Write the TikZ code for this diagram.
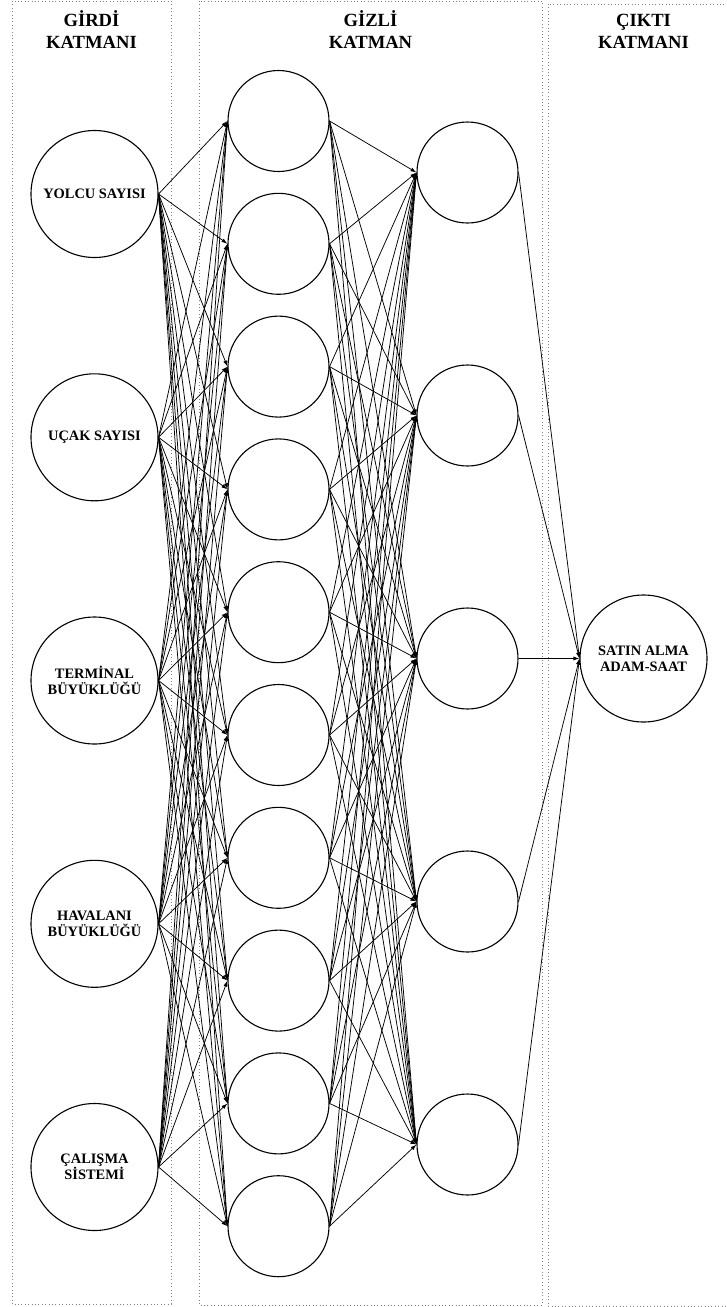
\documentclass[tikz,border=0pt]{standalone}
\usepackage{fontspec}
\setmainfont{Liberation Serif}
\usetikzlibrary{arrows.meta}
\begin{document}
\begin{tikzpicture}[x=1pt,y=-1pt,
  neuron/.style={draw, circle, line width=1.1pt, inner sep=0pt, minimum size=101pt},
  bigneuron/.style={draw, circle, line width=1.1pt, inner sep=0pt, minimum size=127pt,
    font=\bfseries\fontsize{14.4}{16}\selectfont, align=center},
  layerbox/.style={draw=gray, line width=0.8pt, dash pattern=on 0.8pt off 2.6pt},
  title/.style={font=\bfseries\fontsize{18.6}{22}\selectfont, anchor=base, inner sep=0pt},
  conn/.style={-{Latex[length=6pt,width=4pt]}, line width=0.75pt}]
\useasboundingbox (0,0) rectangle (726,1307);
\clip (0,0) rectangle (726,1307);
% layer boxes
\draw[layerbox] (12,1) rectangle (171,1304);
\draw[layerbox] (199,1) rectangle (542,1305);
\draw[layerbox] (548,4) rectangle (740,1306);
% titles
\node[title] (t1a) at (91.5,26) {GİRDİ};
\node[title] (t1b) at (91.5,48) {KATMANI};
\node[title] (t2a) at (370.5,26) {GİZLİ};
\node[title] (t2b) at (370.5,48) {KATMAN};
\node[title] (t3a) at (643.5,26) {ÇIKTI};
\node[title] (t3b) at (643.5,48) {KATMANI};
% input layer
\node[bigneuron] (in1) at (94.5,194) {YOLCU SAYISI};
\node[bigneuron] (in2) at (94.5,437.3) {UÇAK SAYISI};
\node[bigneuron] (in3) at (94.5,680.5) {TERMİNAL\\BÜYÜKLÜĞÜ};
\node[bigneuron] (in4) at (94.5,923.8) {HAVALANI\\BÜYÜKLÜĞÜ};
\node[bigneuron] (in5) at (94.5,1167) {ÇALIŞMA\\SİSTEMİ};
% hidden layer 1
\foreach \j in {1,...,10}
  \node[neuron] (ha\j) at (278.5,{121+122.8*(\j-1)}) {};
% hidden layer 2
\foreach \k in {1,...,5}
  \node[neuron] (hb\k) at (467.5,{172.5+243*(\k-1)}) {};
% output
\node[bigneuron] (out) at (643.5,658.5) {SATIN ALMA\\ADAM-SAAT};
% connections
\foreach \i in {1,...,5}
  \foreach \j in {1,...,10}
    \draw[conn] (in\i.east) -- (ha\j.west);
\foreach \j in {1,...,10}
  \foreach \k in {1,...,5}
    \draw[conn] (ha\j.east) -- (hb\k.west);
\foreach \k in {1,...,5}
  \draw[conn] (hb\k.east) -- (out.west);
\end{tikzpicture}
\end{document}
